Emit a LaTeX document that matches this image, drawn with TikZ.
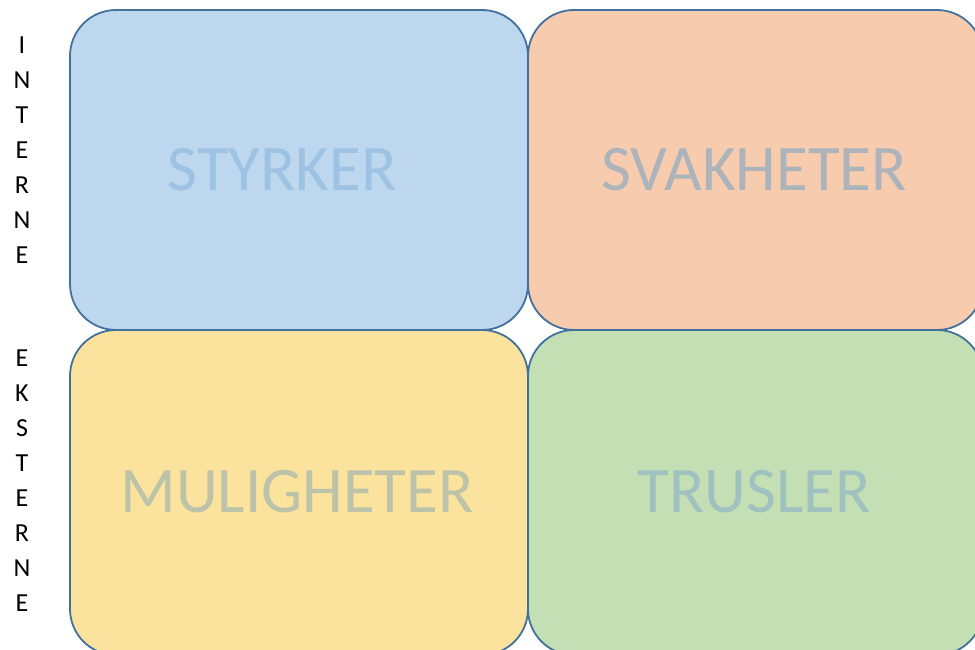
\documentclass[tikz,border=0pt]{standalone}
\usepackage{fontspec}
\setmainfont{Carlito}
\definecolor{edge}{HTML}{41719C}
\definecolor{fblue}{HTML}{BDD7EE}
\definecolor{forange}{HTML}{F6CBAE}
\definecolor{fyellow}{HTML}{FBE29D}
\definecolor{fgreen}{HTML}{C5DFB5}
\definecolor{tblue}{HTML}{9DC2E4}
\definecolor{torange}{HTML}{ADB3BA}
\definecolor{tyellow}{HTML}{BCC3A9}
\definecolor{tgreen}{HTML}{9FC2C0}
\begin{document}
\begin{tikzpicture}[x=1pt,y=-1pt,
  quad/.style={draw=edge, line width=1.8pt, rounded corners=46pt, inner sep=0pt},
  big/.style={font=\fontsize{65}{78}\selectfont, inner sep=0pt},
  side/.style={font=\fontsize{26}{30}\selectfont, text=black, inner sep=0pt}]
\useasboundingbox (0,0) rectangle (975,650);
\begin{scope}
\clip (0,0) rectangle (975,650);
\node[quad, fill=fblue, minimum width=458pt, minimum height=320pt] (s) at (299,170) {};
\node[quad, fill=forange, minimum width=455pt, minimum height=320pt] (w) at (755.5,170) {};
\node[quad, fill=fyellow, minimum width=458pt, minimum height=325pt] (o) at (299,492.5) {};
\node[quad, fill=fgreen, minimum width=455pt, minimum height=325pt] (t) at (755.5,492.5) {};
\node[big, text=tblue] (ls) at (282,170) {STYRKER};
\node[big, text=torange] (lw) at (754,170) {SVAKHETER};
\node[big, text=tyellow] (lo) at (297,492) {MULIGHETER};
\node[big, text=tgreen] (lt) at (754,492) {TRUSLER};
\end{scope}
\foreach \c [count=\i] in {I,N,T,E,R,N,E}
  \node[side] (in\i) at (22,{45+35*(\i-1)}) {\c};
\foreach \c [count=\i] in {E,K,S,T,E,R,N,E}
  \node[side] (ex\i) at (22,{358+35*(\i-1)}) {\c};
\end{tikzpicture}
\end{document}
